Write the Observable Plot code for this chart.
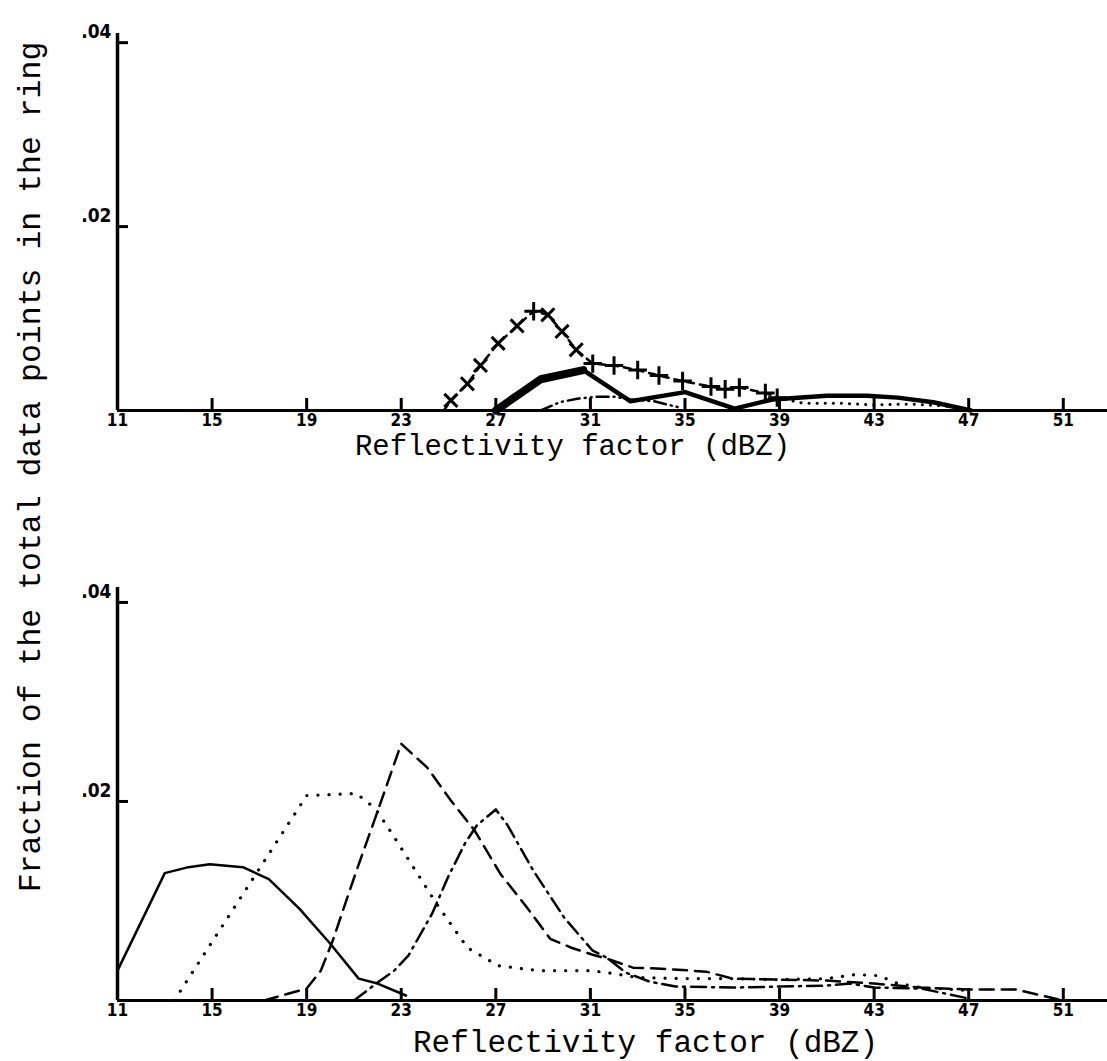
<!DOCTYPE html>
<html><head><meta charset="utf-8">
<script src="https://cdn.jsdelivr.net/npm/d3@7"></script>
<script src="https://cdn.jsdelivr.net/npm/@observablehq/plot@0.6"></script>
<style>
body{margin:0;background:#fff;}
#wrap{position:relative;width:1107px;height:1061px;background:#fff;overflow:hidden;}
#ytitle{position:absolute;left:31px;top:467px;transform:translate(-50%,-50%) rotate(-90deg);font-family:"Liberation Mono",monospace;font-size:31.5px;white-space:nowrap;color:#000;}
#top{position:absolute;left:0;top:0;}
#bot{position:absolute;left:0;top:470px;}
</style></head><body>
<div id="wrap"><div id="top"></div><div id="bot"></div><div id="ytitle"></div></div>
<script>
// ---- labels & ticks ----
const xTicks = [11, 15, 19, 23, 27, 31, 35, 39, 43, 47, 51];
const yTicks = [0.02, 0.04];
const yTickLabels = [".02", ".04"];
const xLabel = "Reflectivity factor (dBZ)";
const yLabel = "Fraction of the total data points in the ring";

// ---- top panel series ----
const topCrossX = [24.8, 25.1, 25.8, 26.35, 27.1, 27.9, 28.6, 29.2, 29.8, 30.4, 31.1, 32.0, 33.0, 33.9, 34.9, 36.1, 36.7, 37.3, 38.4, 38.9];
const topCrossY = [0, 0.0011, 0.0029, 0.0049, 0.0073, 0.0092, 0.0108, 0.0104, 0.0086, 0.0066, 0.0051, 0.0049, 0.0044, 0.0038, 0.0032, 0.0026, 0.0023, 0.0025, 0.0019, 0.0014];
const topDotX = [38.9, 40.0, 41.5, 43.0, 44.5, 46.0, 47.0];
const topDotY = [0.0014, 0.0008, 0.0008, 0.0006, 0.0007, 0.0005, 0];
const topSolidX = [27.0, 28.0, 28.9, 30.7, 32.7, 35.0, 37.1, 38.7, 41.0, 42.7, 44.0, 45.5, 47.1];
const topSolidY = [0, 0.0018, 0.0034, 0.0044, 0.0010, 0.0020, 0.0002, 0.0012, 0.0016, 0.0016, 0.0014, 0.0009, 0];
const topDashDotX = [28.9, 29.7, 30.5, 31.3, 32.0, 32.7, 33.7, 34.8];
const topDashDotY = [0, 0.0009, 0.0013, 0.0015, 0.0015, 0.0012, 0.0010, 0.0003];

// ---- bottom panel series ----
const botSolidX = [11.0, 13.0, 14.0, 14.9, 16.3, 17.4, 18.7, 20.0, 21.2, 22.0, 23.2];
const botSolidY = [0.0030, 0.0128, 0.0134, 0.0137, 0.0134, 0.0122, 0.0092, 0.0057, 0.0022, 0.0017, 0.0005];
const botDotX = [13.4, 19.0, 21.1, 21.9, 22.6, 24.5, 25.8, 27.1, 28.8, 31.0, 32.0, 33.0, 35.0, 37.0, 39.0, 41.0, 42.2, 43.2, 44.0, 45.0, 47.0];
const botDotY = [0, 0.0206, 0.0208, 0.0193, 0.0168, 0.0097, 0.0053, 0.0035, 0.0030, 0.0030, 0.0027, 0.0023, 0.0022, 0.0022, 0.0021, 0.0022, 0.0026, 0.0025, 0.0017, 0.0013, 0.0010];
const botDashX = [17.2, 19.0, 19.6, 20.1, 21.1, 22.0, 23.0, 24.1, 25.1, 26.1, 27.2, 28.3, 29.3, 30.2, 31.1, 31.7, 32.8, 34.0, 35.9, 37.0, 39.0, 41.0, 43.0, 45.0, 47.0, 49.0, 51.0];
const botDashY = [0, 0.0012, 0.0030, 0.0060, 0.0130, 0.0190, 0.0258, 0.0234, 0.0201, 0.0171, 0.0127, 0.0094, 0.0062, 0.0053, 0.0046, 0.0042, 0.0033, 0.0032, 0.0029, 0.0022, 0.0021, 0.0020, 0.0017, 0.0013, 0.0011, 0.0011, 0];
const botDashDotX = [21.0, 22.0, 22.7, 23.3, 24.3, 25.0, 25.7, 26.2, 27.0, 27.5, 28.6, 29.9, 31.1, 31.7, 32.5, 33.5, 34.6, 37.0, 39.0, 41.0, 42.0, 43.0, 45.0, 47.0];
const botDashDotY = [0, 0.0018, 0.0030, 0.0045, 0.0087, 0.0125, 0.0158, 0.0176, 0.0192, 0.0176, 0.0130, 0.0083, 0.0050, 0.0043, 0.0028, 0.0019, 0.0014, 0.0013, 0.0014, 0.0015, 0.0017, 0.0013, 0.0012, 0.0002];

const rows = (xs, ys) => xs.map((x, i) => ({x, y: ys[i]}));
const mono = "'Liberation Mono', 'Courier New', monospace";
const tickFont = "'DejaVu Sans Condensed', 'Liberation Sans Narrow', 'Liberation Sans', sans-serif";
const W = 1107, ML = 117;
const xDomain = [11, 52.87];

function axes(frameH, yMax) {
  const tickLenY = 12 / frameH * yMax;                         // 12 px expressed in y units
  const tickLenX = 11 / (W - ML) * (xDomain[1] - xDomain[0]);  // 11 px expressed in x units
  return [
    Plot.ruleY([0], {stroke: "#000", strokeWidth: 3}),
    Plot.ruleX([11], {stroke: "#000", strokeWidth: 3.5}),
    Plot.ruleX(xTicks.slice(1), {x: d => d, y1: 0, y2: tickLenY, stroke: "#000", strokeWidth: 3}),
    Plot.ruleY(yTicks, {y: d => d, x1: 11, x2: 11 + tickLenX, stroke: "#000", strokeWidth: 3}),
    Plot.text(xTicks, {x: d => d, text: d => String(d), frameAnchor: "bottom", lineAnchor: "top", dy: 3,
      fontSize: 17, fontWeight: "bold", fontFamily: tickFont, fill: "#000"}),
    Plot.text(yTicks, {y: d => d, text: d => yTickLabels[yTicks.indexOf(d)], frameAnchor: "left", textAnchor: "end", dx: -6, dy: -11,
      fontSize: 19, fontWeight: "bold", fontFamily: tickFont, fill: "#000"})
  ];
}

const topCross = rows(topCrossX, topCrossY);
const topPlot = Plot.plot({
  width: W, height: 470, marginLeft: ML, marginRight: 0, marginTop: 33, marginBottom: 60,
  x: {domain: xDomain, axis: null}, y: {domain: [0, 0.041], axis: null},
  style: {background: "white", color: "#000", overflow: "visible"},
  marks: [
    ...axes(377, 0.041),
    Plot.line(topCross, {x: "x", y: "y", stroke: "#000", strokeWidth: 2.5, strokeDasharray: "7,6"}),
    Plot.dot(topCross.slice(1), {x: "x", y: "y", r: 6, stroke: "#000", strokeWidth: 3,
      symbol: (d, i) => { const p = topCross[i], q = topCross[i + 2] || d; const s = Math.abs((q.y - p.y) / (q.x - p.x)); return s > 0.0012 ? "times" : "plus"; }}),
    Plot.line(rows(topDotX, topDotY), {x: "x", y: "y", stroke: "#000", strokeWidth: 3, strokeDasharray: "0.1,8", strokeLinecap: "round"}),
    Plot.line(rows(topDashDotX, topDashDotY), {x: "x", y: "y", stroke: "#000", strokeWidth: 2.5, strokeDasharray: "12,5,1,5,1,5"}),
    Plot.line(rows(topSolidX, topSolidY), {x: "x", y: "y", stroke: "#000", strokeWidth: 4.5, strokeLinejoin: "round"}),
    Plot.line(rows(topSolidX, topSolidY).slice(0, 4), {x: "x", y: "y", stroke: "#000", strokeWidth: 8, strokeLinejoin: "round"}),
    Plot.text([xLabel], {frameAnchor: "bottom", dx: -40, dy: 44, fontFamily: mono, fontSize: 29, fill: "#000"})
  ]
});
document.getElementById("top").appendChild(topPlot);

const botPlot = Plot.plot({
  width: W, height: 591, marginLeft: ML, marginRight: 0, marginTop: 117, marginBottom: 61,
  x: {domain: xDomain, axis: null}, y: {domain: [0, 0.0415], axis: null},
  style: {background: "white", color: "#000", overflow: "visible"},
  marks: [
    ...axes(413, 0.0415),
    Plot.line(rows(botSolidX, botSolidY), {x: "x", y: "y", stroke: "#000", strokeWidth: 2.5, strokeLinejoin: "round"}),
    Plot.line(rows(botDotX, botDotY), {x: "x", y: "y", stroke: "#000", strokeWidth: 3.2, strokeDasharray: "0.1,11", strokeLinecap: "round"}),
    Plot.line(rows(botDashX, botDashY), {x: "x", y: "y", stroke: "#000", strokeWidth: 2.5, strokeDasharray: "14,8"}),
    Plot.line(rows(botDashDotX, botDashDotY), {x: "x", y: "y", stroke: "#000", strokeWidth: 2.5, strokeDasharray: "15,6,2,6"}),
    Plot.text([xLabel], {frameAnchor: "bottom", dx: 33, dy: 51, fontFamily: mono, fontSize: 31, fill: "#000"})
  ]
});
document.getElementById("bot").appendChild(botPlot);
document.getElementById("ytitle").textContent = yLabel;
</script>
</body></html>
